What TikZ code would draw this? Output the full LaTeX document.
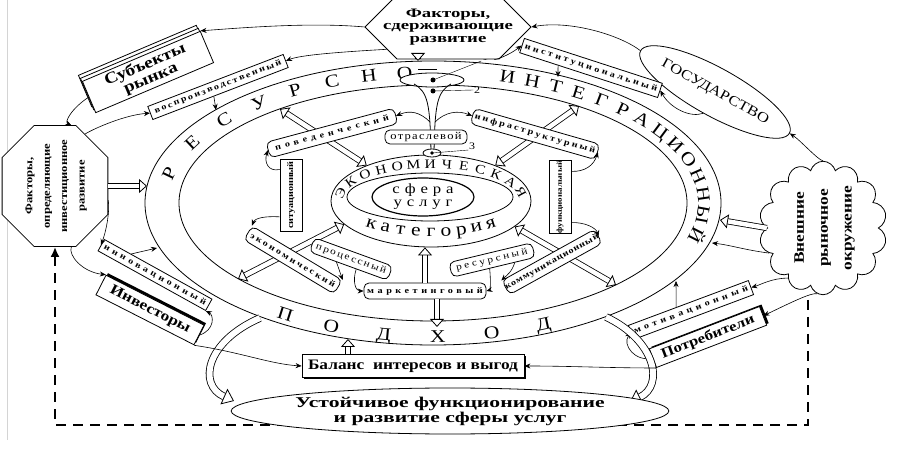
\documentclass[tikz,border=0pt]{standalone}
\usepackage{fontspec}
\setmainfont{Liberation Serif}[FakeStretch=1.2]
\newfontfamily\wideFont{Liberation Serif}[FakeStretch=1.45]
\usepackage{graphicx}
\usepackage{tikz}
\usepackage{xcolor}
\usetikzlibrary{shapes.misc}
\usetikzlibrary{shapes.geometric}
\usetikzlibrary{shapes.symbols}
\usetikzlibrary{shadows}
\usetikzlibrary{backgrounds}
\usetikzlibrary{arrows.meta}
\usetikzlibrary{calc}
\definecolor{inkColor}{HTML}{000000}
\definecolor{paperColor}{HTML}{FFFFFF}
\definecolor{frameColor}{HTML}{D4D4D4}
\def\textBrake{Факторы,\\сдерживающие\\развитие}
\def\textDrive{Факторы,\\определяющие\\инвестиционное\\развитие}
\def\textOuter{Внешние\\рыночное\\окружение}
\def\textGoal{Устойчивое функционирование\\и развитие сферы услуг}
\def\textBalance{Баланс\ \ интересов и выгод}
\newcommand\spaced[1]{\addfontfeature{LetterSpace=#1}}

\tikzset{
  tipHollow/.tip={Triangle[fill=paperColor, length=8bp, width=14bp, line width=0.8bp]},
  tipBig/.tip={Triangle[fill=paperColor, length=11bp, width=17bp, line width=0.8bp]},
  tipFlow/.tip={Stealth[length=6bp, width=5bp]},
  ringTag/.style={draw=inkColor, fill=paperColor, thick, rounded corners=5bp, inner sep=0pt,
    minimum height=16bp, font=\fontsize{8.5}{9}\selectfont\bfseries},
  flatTag/.style={draw=inkColor, fill=paperColor, thick, inner sep=0pt,
    minimum height=14bp, font=\fontsize{8.5}{9}\selectfont\bfseries},
  octBox/.style={draw=inkColor, fill=paperColor, thick, chamfered rectangle,
    chamfered rectangle xsep=18bp, chamfered rectangle ysep=14bp, inner sep=0pt, align=center},
  bigBox/.style={draw=inkColor, fill=paperColor, thick, inner sep=0pt, align=center},
  flowArrow/.style={draw=inkColor, line width=0.6bp, -tipFlow},
  hollowArrow/.style={draw=inkColor, line width=0.8bp, double=paperColor, double distance=4.5bp, -tipHollow},
  hollowBoth/.style={hollowArrow, tipHollow-tipHollow},
  ribbonArrow/.style={draw=inkColor, line width=0.8bp, double=paperColor, double distance=6bp, -tipBig},
  feedback/.style={draw=inkColor, line width=2.4bp, dash pattern=on 10bp off 7bp,
    -{Latex[length=10bp, width=9bp]}},
  bandLetter/.style={inner sep=0pt, text height=12bp, text depth=0pt, font=\fontsize{18}{18}\selectfont},
  ringLetter/.style={inner sep=0pt, text height=9bp, text depth=0pt, font=\fontsize{13}{13}\selectfont},
  ringLetterLow/.style={inner sep=0pt, text height=8.5bp, text depth=0pt, font=\fontsize{18}{18}\selectfont},
  numTag/.style={inner sep=0.5bp, font=\fontsize{10}{10}\selectfont},
}

\begin{document}
\begin{tikzpicture}[x=1bp,y=-1bp]
\useasboundingbox (0,0) rectangle (903,452);

% page frame
\draw[frameColor, line width=1bp] (7,0) -- (7,440);

% band layer
\begin{scope}
\draw[thick] (433,203) ellipse[x radius=288, y radius=142];
\draw[thick] (433,203) ellipse[x radius=254, y radius=118];
\foreach [count=\i] \ang/\chr in {167/Р,152.8/Е,140.5/С,130/У,120.6/Р,111.9/С,103.7/Н,96/О,
  74/И,68.5/Н,63/Т,57.5/Е,51.5/Г,45.5/Р,39.5/А,33/Ц,26.5/И,19.5/О,12/Н,4/Н,-5/Ы,-14/Й}
  \node[bandLetter, rotate={atan2(-131*cos(\ang),271*sin(\ang))}] (bandUp\i)
    at ({433+271*cos(\ang)},{203-131*sin(\ang)}) {\chr};
\foreach [count=\i] \ang/\chr in {237/П,248/О,259.5/Д,271/Х,282.5/О,294/Д}
  \node[bandLetter, rotate={atan2(133*cos(\ang),-271*sin(\ang))}] (bandLow\i)
    at ({433+271*cos(\ang)},{203-133*sin(\ang)}) {\chr};
\end{scope}

% band anchors
\coordinate (bandTop) at (418,61);
\coordinate (bandLeft) at (147,186);
\coordinate (bandRight) at (720,220);
\coordinate (bandBal) at (348,339);
\coordinate (bandMark) at (437,327);
\coordinate (bandUL) at (280,109);
\coordinate (bandUR) at (579,106);
\coordinate (bandLL) at (238,279);
\coordinate (bandLR) at (616,285);
\coordinate (bandRepro) at (216,110);
\coordinate (bandInnov) at (157,248);
\coordinate (bandInst) at (558,77);
\coordinate (bandMotiv) at (676,281);
\coordinate (bandCloud) at (712,243);

% core layer
\begin{scope}
\node[draw=inkColor, thick, ellipse, inner sep=0pt, minimum width=200bp, minimum height=92bp] (econ) at (431,201) {};
\draw[thick] (430,197) ellipse[x radius=83, y radius=24];
\foreach [count=\i] \ang/\chr in {170/Э,151/К,136/О,123/Н,111.5/О,101/М,90.5/И,80/Ч,69/Е,57.5/С,45/К,30/А,12/Я}
  \node[ringLetter, rotate={atan2(-36*cos(\ang),92*sin(\ang))}] (econUp\i)
    at ({431+92*cos(\ang)},{199.5-36*sin(\ang)}) {\chr};
\foreach [count=\i] \ang/\chr in {229/к,240/а,250.5/т,260.5/е,270/г,279.5/о,289.5/р,300/и,311/я}
  \node[ringLetterLow, rotate={atan2(33*cos(\ang),-91*sin(\ang))}] (econLow\i)
    at ({431+91*cos(\ang)},{199-33*sin(\ang)}) {\chr};
\node[draw=inkColor, very thick, ellipse, inner sep=-1bp, minimum width=102bp, minimum height=38bp,
  align=center, font=\fontsize{14}{13}\selectfont] (sphere) at (423,197)
  {{\spaced{35}сфера}\\{\spaced{35}услуг}};
\end{scope}

% funnel
\begin{scope}
\draw[thick, fill=paperColor] (432,80) ellipse[x radius=32, y radius=7];
\draw[thick] (414,84) .. controls (428,92) and (430,104) .. (431,152);
\draw[thick] (451,84) .. controls (437,92) and (435,104) .. (434,152);
\draw[thick, fill=paperColor] (432,153) ellipse[x radius=9, y radius=4];
\draw (418,69) -- (437,69);
\coordinate (dotOne) at (433,80);
\coordinate (dotTwo) at (433,91);
\coordinate (dotThree) at (432,153);
\coordinate (stemL) at (430,122);
\coordinate (stemR) at (435,122);
\fill (dotOne) circle[radius=2.5];
\fill (dotTwo) circle[radius=2.5];
\fill (dotThree) circle[radius=1.8];
\node[numTag] (numOne) at (485,57) {1};
\node[numTag] (numTwo) at (477,90) {2};
\node[numTag] (numThree) at (472,146) {3};
\draw[thin] (dotOne) -- (numOne.south west);
\draw[thin] (dotTwo) -- (numTwo.west);
\draw[thin] (dotThree) -- (numThree.south west);
\end{scope}

% ring labels
\begin{scope}
\node[ringTag, minimum width=132bp, rotate=15] (behav) at (332,133) {\spaced{48}поведенческий};
\node[ringTag, minimum width=130bp, rotate=-16] (infra) at (535,134) {\spaced{27}инфраструктурный};
\node[flatTag, minimum width=72bp, minimum height=22bp, rotate=90] (sit) at (291,195) {ситуационный};
\node[flatTag, minimum width=70bp, minimum height=22bp, rotate=90, font=\fontsize{7.5}{8}\selectfont\bfseries] (func) at (560,197) {функциональный};
\node[ringTag, minimum width=105bp, rotate=-31] (ecoBox) at (293,260) {\spaced{26}экономический};
\node[ringTag, minimum width=83bp, minimum height=15bp, rotate=-20, font=\fontsize{9.5}{10}\selectfont] (proc) at (351,259) {\spaced{18}процессный};
\node[ringTag, minimum width=122bp] (mark) at (425,291) {\spaced{42}маркетинговый};
\node[ringTag, minimum width=85bp, minimum height=15bp, rotate=13.5, font=\fontsize{9.5}{10}\selectfont] (res) at (492,260) {\spaced{28}ресурсный};
\node[ringTag, minimum width=105bp, rotate=29] (comm) at (552,262) {\spaced{9}коммуникационный};
\node[ringTag, minimum width=82bp, minimum height=14bp, font=\fontsize{10.5}{11}\selectfont] (branch) at (426,137) {\spaced{12}отраслевой};
\end{scope}

% ring arrows
\begin{scope}[on background layer]
\draw[hollowBoth] (bandUL) -- (econ.151);
\draw[hollowBoth] (bandUR) -- (econ.29);
\draw[hollowBoth] (bandLL) -- (econ.195);
\draw[hollowBoth] (bandLR) -- (econ.-17);
\end{scope}
\draw[hollowArrow] (mark.north) -- (mark.north |- econ.south);
\draw[hollowArrow] ($(mark.south)+(12,0)$) -- (bandMark);
\draw[flowArrow] (stemL) .. controls (420,112) and (410,110) .. (behav.east);
\draw[flowArrow] (stemR) .. controls (445,112) and (458,110) .. (infra.west);
\draw[flowArrow] ($(sit.north)!0.7!(sit.north east)$) .. controls (268,172) and (264,162) .. (behav.west);
\draw[flowArrow] ($(sit.north)!0.6!(sit.north west)$) .. controls (265,216) and (255,218) .. (ecoBox.north west);
\draw[flowArrow] ($(proc.south west)!0.35!(proc.south east)$) -- (ecoBox.north east);
\draw[flowArrow] ($(proc.south west)!0.6!(proc.south east)$) .. controls (352,282) and (356,291) .. (mark.west);
\draw[flowArrow] ($(res.south west)!0.45!(res.south east)$) .. controls (491,282) and (490,290) .. (mark.east);
\draw[flowArrow] ($(res.south west)!0.75!(res.south east)$) .. controls (512,272) and (506,276) .. (comm.north west);
\draw[flowArrow] ($(func.south)!0.7!(func.south east)$) .. controls (585,172) and (594,165) .. (infra.east);
\draw[flowArrow] ($(func.south)!0.7!(func.south west)$) .. controls (585,222) and (596,228) .. (comm.east);

% outer layer
\begin{scope}
\node[octBox, minimum width=165bp, minimum height=48bp,
  font=\wideFont\bfseries\fontsize{13}{12.5}\selectfont] (topOct) at (448,27) {\textBrake};
\node[octBox, minimum width=88bp, minimum height=86bp,
  font=\bfseries\fontsize{10.5}{17.5}\selectfont] (leftOct) at (55,186)
  {\rotatebox{90}{\begin{tabular}{@{}c@{}}\textDrive\end{tabular}}};
\node[bigBox, rotate=23, minimum width=128bp, minimum height=34bp,
  double copy shadow={shadow xshift=-2bp, shadow yshift=3bp},
  font=\bfseries\fontsize{16}{14.5}\selectfont] (subj) at (148,72) {Субъекты\\рынка};
\node[flatTag, minimum width=145bp, rotate=21] (repro) at (218,87) {\spaced{22}воспроизводственный};
\node[draw=inkColor, thick, fill=paperColor, ellipse, inner sep=0pt, rotate=-29,
  minimum width=152bp, minimum height=48bp, font=\fontsize{14}{14}\selectfont] (gov) at (715,92) {ГОСУДАРСТВО};
\node[flatTag, minimum width=145bp, minimum height=15bp, rotate=-18] (inst) at (591,68) {\spaced{32}институциональный};
\node[flatTag, minimum width=123bp, minimum height=13bp, rotate=-29] (innov) at (155,275) {\spaced{40}инновационный};
\node[bigBox, rotate=-27, minimum width=110bp, minimum height=22bp,
  drop shadow={shadow xshift=2bp, shadow yshift=2bp, fill=inkColor, opacity=1},
  font=\bfseries\fontsize{14.5}{14}\selectfont] (inv) at (150,310) {Инвесторы};
\node[flatTag, minimum width=128bp, minimum height=15bp, rotate=20.5] (motiv) at (691,310) {\spaced{45}мотивационный};
\node[bigBox, rotate=21, minimum width=118bp, minimum height=20bp,
  drop shadow={shadow xshift=2bp, shadow yshift=2bp, fill=inkColor, opacity=1},
  font=\bfseries\fontsize{14}{14}\selectfont] (cons) at (708,337) {Потребители};
\node[draw=inkColor, thick, fill=paperColor, cloud, cloud puffs=14, cloud ignores aspect,
  minimum width=128bp, minimum height=92bp, inner sep=0pt,
  font=\bfseries\fontsize{14.5}{24}\selectfont] (cloud) at (823,228)
  {\rotatebox{90}{\begin{tabular}{@{}c@{}}\textOuter\end{tabular}}};
\end{scope}

% outer hollow arrows
\draw[hollowArrow] ($(topOct.south)+(-30,0)$) -- (bandTop);
\draw[hollowArrow] (leftOct.east) -- (bandLeft);
\draw[hollowArrow] (cloud.west) -- (bandRight);

% outer flows
\draw[flowArrow] (topOct.west) .. controls (310,22) and (240,28) .. (subj.north east);
\draw[flowArrow] (topOct.200) .. controls (340,52) and (300,55) .. (repro.east);
\draw[flowArrow] (gov.west) .. controls (620,35) and (570,20) .. (topOct.east);
\draw[flowArrow] (topOct.-35) .. controls (495,60) and (508,56) .. (inst.west);
\draw[flowArrow] (gov.south) .. controls (690,118) and (670,108) .. (inst.east);
\draw[flowArrow] (subj.west) .. controls (72,108) and (64,122) .. (leftOct.75);
\draw[flowArrow] (leftOct.60) .. controls (95,128) and (125,115) .. (repro.west);
\draw[flowArrow] (leftOct.-15) .. controls (110,212) and (106,232) .. (innov.west);
\draw[flowArrow] (leftOct.-75) .. controls (68,255) and (82,272) .. (inv.north west);
\draw[flowArrow] (inv.east) .. controls (215,330) and (214,315) .. (innov.south east);
\draw[flowArrow] (cloud.north) .. controls (818,160) and (800,140) .. (gov.east);
\draw[flowArrow] (cloud.265) .. controls (812,292) and (790,303) .. (cons.east);
\draw[flowArrow] (cloud.235) .. controls (772,278) and (760,285) .. (motiv.east);
\draw[flowArrow] (cloud.205) .. controls (745,250) and (730,245) .. (bandCloud);
\draw[flowArrow] (cons.west) .. controls (635,362) and (622,345) .. (motiv.west);
\draw[flowArrow] ($(repro.south west)!0.45!(repro.south east)$) -- (bandRepro);
\draw[flowArrow] ($(innov.north west)!0.25!(innov.north east)$) -- (bandInnov);
\draw[flowArrow] ($(inst.south west)!0.28!(inst.south east)$) -- (bandInst);
\draw[flowArrow] ($(motiv.north west)!0.4!(motiv.north east)$) -- (bandMotiv);

% bottom layer
\begin{scope}
\node[bigBox, minimum width=222bp, minimum height=23bp,
  drop shadow={shadow xshift=1.5bp, shadow yshift=-1.5bp, fill=inkColor, opacity=1},
  font=\bfseries\fontsize{14.5}{15}\selectfont] (bal) at (413,366) {\textBalance};
\coordinate (swirlLStart) at (260,318);
\coordinate (swirlLEnd) at (234,401);
\coordinate (swirlRStart) at (606,317);
\coordinate (swirlREnd) at (630,402);
\draw[ribbonArrow] (swirlLStart) .. controls (205,342) and (198,385) .. (swirlLEnd);
\draw[ribbonArrow] (swirlRStart) .. controls (655,340) and (665,385) .. (swirlREnd);
\node[draw=inkColor, thick, fill=paperColor, ellipse, inner sep=0pt, minimum width=434bp, minimum height=46bp,
  align=center, font=\wideFont\bfseries\fontsize{15}{15}\selectfont] (goal) at (450,411) {\textGoal};
\end{scope}
\draw[hollowArrow] ($(bal.north)+(-65,0)$) -- (bandBal);
\draw[flowArrow] (inv.south east) .. controls (240,352) and (270,364) .. (bal.west);
\draw[flowArrow] (cons.south west) .. controls (610,368) and (570,366) .. (bal.east);

% feedback loop
\coordinate (dashTop) at (808,300);
\coordinate (dashBR) at (808,425);
\coordinate (dashBL) at (55,425);
\begin{scope}[on background layer]
\draw[feedback] (dashTop) -- (dashBR) -- (dashBL) -- (leftOct.south);
\end{scope}

\end{tikzpicture}
\end{document}
